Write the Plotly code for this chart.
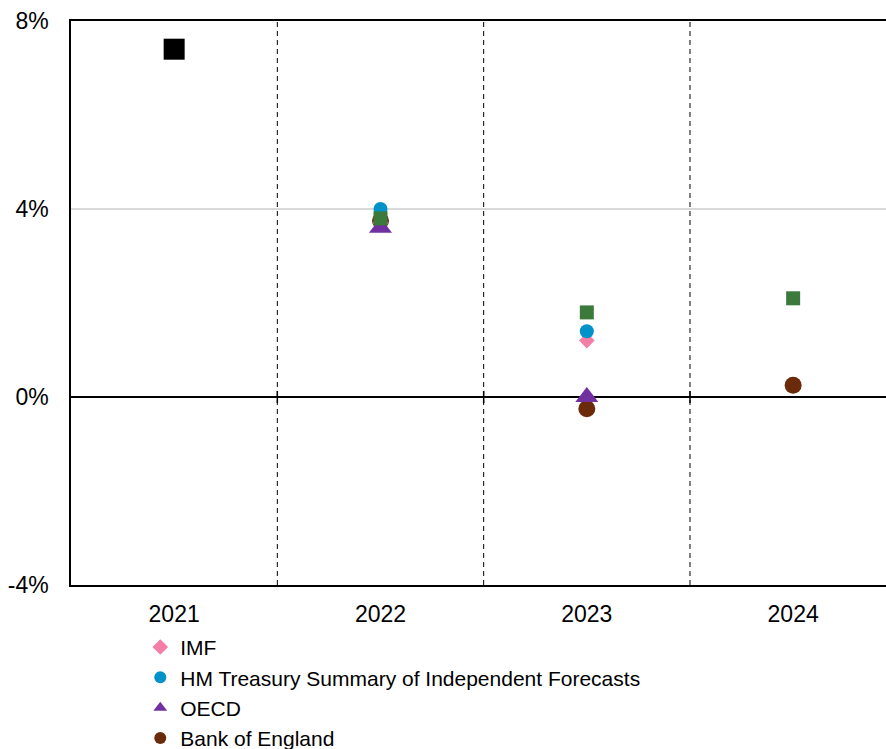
import plotly.graph_objects as go

# UK real GDP growth: 2021 outturn and forecasts for 2022-2024
years = ["2021", "2022", "2023", "2024"]
x_pos = [0, 1, 2, 3]

outturn = [7.4, None, None, None]
imf = [None, 3.7, 1.2, None]
hmt = [None, 4.0, 1.4, None]
oecd = [None, 3.6, 0.0, None]
boe = [None, 3.75, -0.25, 0.25]
obr = [None, 3.8, 1.8, 2.1]

y_ticks = [-4, 0, 4, 8]
y_tick_labels = ["-4%", "0%", "4%", "8%"]

FONT = "Liberation Sans, Arial, sans-serif"

fig = go.Figure()


def add_series(values, name, color, symbol, size, show, rank):
    fig.add_trace(go.Scatter(
        x=x_pos, y=values, mode="markers", name=name,
        marker=dict(color=color, symbol=symbol, size=size, line=dict(width=0)),
        showlegend=show, legendrank=rank, cliponaxis=False,
    ))


add_series(boe, "Bank of England", "#6B2A0A", "circle", 17, True, 4)
add_series(imf, "IMF", "#F47FA4", "diamond", 12, True, 1)
add_series(hmt, "HM Treasury Summary of Independent Forecasts", "#0092C9", "circle", 14, True, 2)
add_series(oecd, "OECD", "#7030A0", "triangle-up", 20, True, 3)
add_series(obr, "OBR", "#3C7A3C", "square", 14, False, 5)
add_series(outturn, "Outturn", "#000000", "square", 21, False, 6)

shapes = []
# dashed dividers between years and small ticks on the zero line
for b in [0.5, 1.5, 2.5]:
    shapes.append(dict(type="line", xref="x", yref="y", x0=b, x1=b, y0=-4, y1=8,
                       line=dict(color="#000000", width=1, dash="5px,4px"), layer="below"))
    shapes.append(dict(type="line", xref="x", yref="y", x0=b, x1=b, y0=-0.13, y1=0.13,
                       line=dict(color="#000000", width=1.5)))

fig.update_layout(
    width=886, height=749,
    margin=dict(l=71, r=0, t=21, b=164, autoexpand=False),
    paper_bgcolor="white", plot_bgcolor="white",
    font=dict(family=FONT, size=23, color="#000000"),
    shapes=shapes,
    showlegend=True,
    legend=dict(
        x=0.085, xanchor="left", y=0.163, yanchor="top", yref="container",
        font=dict(family=FONT, size=21, color="#000000"),
        bgcolor="rgba(0,0,0,0)", itemsizing="constant",
        tracegroupgap=0,
    ),
    xaxis=dict(
        range=[-0.5, 3.45], tickvals=x_pos, ticktext=years,
        showgrid=False, zeroline=False, ticks="",
        showline=True, mirror=True, linecolor="#000000", linewidth=1.5,
        ticklabelstandoff=8, fixedrange=True,
    ),
    yaxis=dict(
        range=[-4, 8], tickvals=y_ticks, ticktext=y_tick_labels,
        showgrid=True, gridcolor="#D9D9D9", gridwidth=1.5,
        zeroline=True, zerolinecolor="#000000", zerolinewidth=1.5,
        showline=True, mirror=False, linecolor="#000000", linewidth=1.5,
        ticks="", ticklabelstandoff=16, fixedrange=True,
    ),
)

fig.write_html("out.html")
